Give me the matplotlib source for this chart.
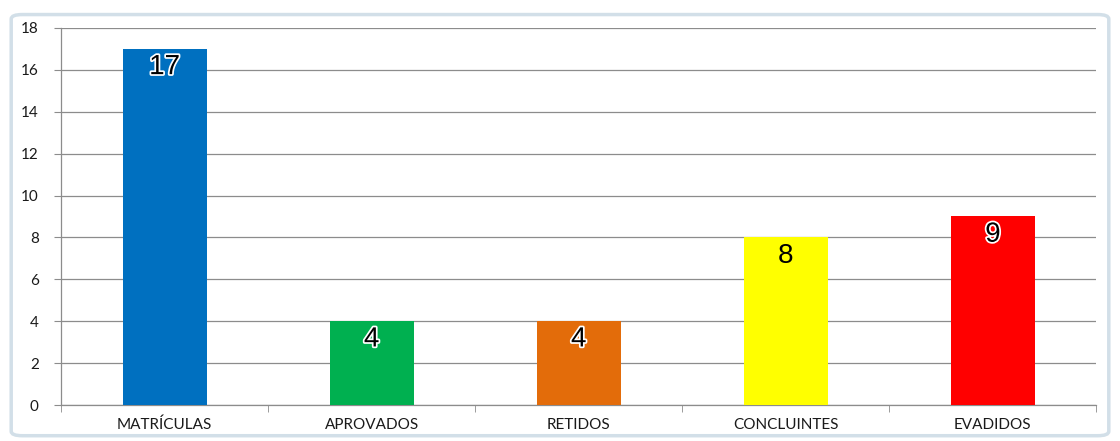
import matplotlib.pyplot as plt
import matplotlib.patheffects as pe
from matplotlib.patches import FancyBboxPatch
import numpy as np

categories = ['MATRÍCULAS', 'APROVADOS', 'RETIDOS', 'CONCLUINTES', 'EVADIDOS']
values = [17, 4, 4, 8, 9]
colors = ['#0070c0', '#00b050', '#e36c0a', '#ffff00', '#ff0000']
outlined = [True, True, True, False, True]

fig = plt.figure(figsize=(11.2, 4.41), dpi=100)

# window-like frame around the chart
frame = FancyBboxPatch((0.010, 0.012), 0.980, 0.955, boxstyle='round,pad=0,rounding_size=0.01',
                       transform=fig.transFigure, facecolor='none', edgecolor='#d2dfe8',
                       linewidth=2.5, zorder=-1)
fig.patches.append(frame)

ax = fig.add_axes([0.0545, 0.0816, 0.9245, 0.855])
ax.set_facecolor('none')

x = np.arange(len(categories))
ax.bar(x, values, width=0.405, color=colors, zorder=3)

ax.set_xlim(-0.5, len(categories) - 0.5)
ax.set_ylim(0, 18)
ax.set_yticks(range(0, 19, 2))
ax.yaxis.grid(True, color='#8c8c8c', linewidth=0.9, zorder=0)

ax.set_xticks(x)
ax.set_xticklabels(categories, fontfamily='Lato', fontsize=11, color='#1a1a1a')
ax.set_xticks(np.arange(len(categories) + 1) - 0.5, minor=True)
ax.tick_params(axis='x', which='major', length=0, pad=9)
ax.tick_params(axis='x', which='minor', length=5, color='#8c8c8c', direction='out')
ax.tick_params(axis='y', length=5, color='#8c8c8c', labelsize=11, pad=11, labelcolor='#1a1a1a')
for lab in ax.get_yticklabels():
    lab.set_fontfamily('Lato')

for s in ['top', 'right']:
    ax.spines[s].set_visible(False)
for s in ['left', 'bottom']:
    ax.spines[s].set_color('#8c8c8c')
    ax.spines[s].set_linewidth(0.9)

for xi, v, o in zip(x, values, outlined):
    t = ax.text(xi, v - 0.25, str(v), ha='center', va='top', fontsize=20,
                fontfamily='Liberation Sans', color='black', zorder=4)
    if o:
        t.set_path_effects([pe.withStroke(linewidth=2.5, foreground='white')])

fig.savefig('out.png', dpi=100)
